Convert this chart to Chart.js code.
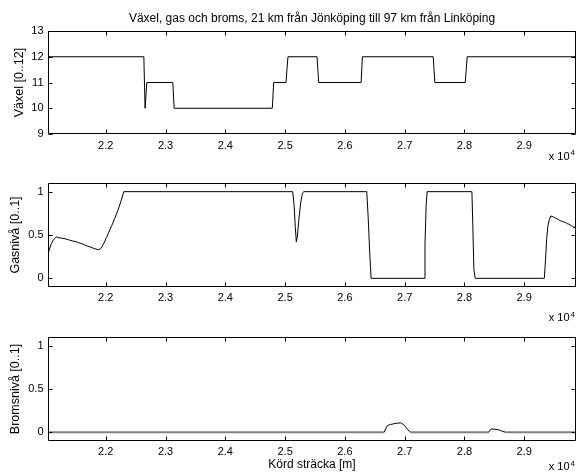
<!DOCTYPE html>
<html>
<head>
<meta charset="utf-8">
<script src="https://cdn.jsdelivr.net/npm/chart.js@4/dist/chart.umd.min.js"></script>
<style>
html,body{margin:0;padding:0;background:#fff;}
#wrap{position:relative;width:578px;height:475px;overflow:hidden;}
#wrap canvas{position:absolute;left:0;top:0;}
</style>
</head>
<body>
<div id="wrap">
<canvas id="c1" width="578" height="475"></canvas>
<canvas id="c2" width="578" height="475"></canvas>
<canvas id="c3" width="578" height="475"></canvas>
</div>
<script>
// ---- data (x in metres driven) ----
const titleText = 'Växel, gas och broms, 21 km från Jönköping till 97 km från Linköping';
const xLabel = 'Körd sträcka [m]';
const gearLabel = 'Växel [0..12]';
const gasLabel = 'Gasnivå [0..1]';
const brakeLabel = 'Bromsnivå [0..1]';

const xMin = 21034;
const xMax = 29866;
const xTicks = [22000, 23000, 24000, 25000, 26000, 27000, 28000, 29000];
const xTickLabels = ['2.2', '2.3', '2.4', '2.5', '2.6', '2.7', '2.8', '2.9'];

const gearTicks = [9, 10, 11, 12, 13];
const gearTickLabels = ['9', '10', '11', '12', '13'];
const levelTicks = [0, 0.5, 1];
const levelTickLabels = ['0', '0.5', '1'];

const gearX = [21034, 22637, 22658, 22687, 23122, 23144, 24786, 24809, 25015, 25048, 25534, 25562, 26271, 26293, 27477, 27505, 28013, 28046, 29866];
const gearY = [12, 12, 10, 11, 11, 10, 10, 11, 11, 12, 12, 11, 11, 12, 12, 11, 11, 12, 12];

const gasX = [21034, 21060, 21090, 21120, 21150, 21175, 21200, 21250, 21300, 21350, 21400, 21450, 21500, 21550, 21600, 21650, 21700, 21750, 21800, 21850, 21880, 21910, 21940, 21980, 22010, 22050, 22095, 22150, 22206, 22250, 22302,
  25127, 25150, 25170, 25188, 25205, 25230, 25260, 25290, 25310,
  26366, 26390, 26415, 26438, 27325, 27340, 27360, 27376,
  28125, 28140, 28158, 28180, 29336, 29355, 29375, 29395, 29420, 29447, 29480, 29510, 29540, 29570, 29600, 29630, 29660, 29690, 29720, 29750, 29780, 29810, 29830, 29850, 29866];
const gasY = [0.28, 0.34, 0.40, 0.44, 0.46, 0.48, 0.47, 0.465, 0.46, 0.45, 0.44, 0.43, 0.425, 0.41, 0.40, 0.385, 0.37, 0.36, 0.345, 0.335, 0.33, 0.34, 0.37, 0.42, 0.47, 0.53, 0.60, 0.69, 0.79, 0.88, 1.0,
  1.0, 0.85, 0.6, 0.42, 0.48, 0.68, 0.87, 0.98, 1.0,
  1.0, 0.7, 0.3, 0.0, 0.0, 0.4, 0.85, 1.0,
  1.0, 0.6, 0.1, 0.0, 0.0, 0.2, 0.45, 0.6, 0.68, 0.72, 0.71, 0.70, 0.69, 0.68, 0.665, 0.66, 0.65, 0.645, 0.63, 0.625, 0.61, 0.6, 0.58, 0.6, 0.59];

const brakeX = [21034, 26656, 26690, 26711, 26760, 26812, 26870, 26936, 26970, 27008, 27050, 27103, 28404, 28430, 28459, 28510, 28570, 28640, 28700, 29866];
const brakeY = [0, 0, 0.05, 0.078, 0.09, 0.098, 0.105, 0.11, 0.095, 0.07, 0.03, 0, 0, 0.03, 0.04, 0.035, 0.03, 0.01, 0, 0];

// ---- rendering ----
const FONT = "'Liberation Sans', Arial, Helvetica, sans-serif";
Chart.defaults.font.family = FONT;
Chart.defaults.color = '#000';

const boxPlugin = {
  id: 'mbox',
  afterDatasetsDraw(chart, args, opts) {
    const {ctx, chartArea: a} = chart;
    const x = chart.scales.x, y = chart.scales.y;
    ctx.save();
    ctx.strokeStyle = '#000';
    ctx.lineWidth = 1;
    const L = Math.round(a.left) + 0.5, R = Math.round(a.right) - 0.5;
    const T = Math.round(a.top) + 0.5, B = Math.round(a.bottom) - 0.5;
    ctx.beginPath();
    ctx.rect(L, T, R - L, B - T);
    const tl = 4;
    x.ticks.forEach(t => {
      const px = Math.round(x.getPixelForValue(t.value)) + 0.5;
      ctx.moveTo(px, B); ctx.lineTo(px, B - tl);
      ctx.moveTo(px, T); ctx.lineTo(px, T + tl);
    });
    y.ticks.forEach(t => {
      const py = Math.round(y.getPixelForValue(t.value)) + 0.5;
      ctx.moveTo(L, py); ctx.lineTo(L + tl, py);
      ctx.moveTo(R, py); ctx.lineTo(R - tl, py);
    });
    ctx.stroke();
    // x 10^4 exponent label
    ctx.fillStyle = '#000';
    ctx.textBaseline = 'middle';
    ctx.font = '11px ' + FONT;
    ctx.textAlign = 'right';
    ctx.fillText('x 10', 569.5, opts.expY);
    ctx.font = '8px ' + FONT;
    ctx.textAlign = 'left';
    ctx.fillText('4', 570.5, opts.expY - 4);
    ctx.restore();
  }
};

function makeChart(id, o) {
  const data = o.xs.map((v, i) => ({x: v, y: o.ys[i]}));
  const ds = {
    data: data,
    borderColor: '#000',
    borderWidth: 1,
    pointRadius: 0,
    tension: 0,
    fill: false
  };
  if (o.segment) ds.segment = o.segment;
  return new Chart(document.getElementById(id), {
    type: 'line',
    data: {datasets: [ds]},
    plugins: [boxPlugin],
    options: {
      responsive: false,
      animation: false,
      devicePixelRatio: 1,
      events: [],
      layout: {padding: {left: 0, right: 2, top: o.padTop, bottom: o.padBottom}},
      plugins: {
        legend: {display: false},
        tooltip: {enabled: false},
        title: o.title ? {
          display: true, text: o.title, fullSize: false, color: '#000',
          font: {size: 12, weight: 'normal', family: FONT},
          padding: {top: 11.1, bottom: 5.5}
        } : {display: false},
        mbox: {expY: o.expY}
      },
      scales: {
        x: {
          type: 'linear', position: 'bottom', min: xMin, max: xMax,
          afterBuildTicks: s => { s.ticks = xTicks.map(v => ({value: v})); },
          afterFit: s => { s.height = o.xh; },
          grid: {display: false, drawTicks: false},
          border: {display: false},
          ticks: {
            autoSkip: false, maxRotation: 0, padding: o.xPad,
            font: {size: 11}, color: '#000',
            callback: (v, i) => xTickLabels[xTicks.indexOf(v)]
          },
          title: o.xTitle ? {display: true, text: o.xTitle, color: '#000', font: {size: 12}, padding: {top: 0, bottom: 0}} : {display: false}
        },
        y: {
          type: 'linear', position: 'left', min: o.yMin, max: o.yMax,
          afterBuildTicks: s => { s.ticks = o.yTicks.map(v => ({value: v})); },
          afterFit: s => { s.width = 48; },
          grid: {display: false, drawTicks: false},
          border: {display: false},
          ticks: {
            autoSkip: false, padding: 4.5, font: {size: 11}, color: '#000',
            callback: (v) => o.yTickLabels[o.yTicks.indexOf(v)]
          },
          title: {display: true, text: o.yTitle, color: '#000', font: {size: 12.5}, padding: {top: o.yTitlePad, bottom: 0}}
        }
      }
    }
  });
}

makeChart('c1', {
  xs: gearX, ys: gearY, yMin: 9, yMax: 13, yTicks: gearTicks, yTickLabels: gearTickLabels,
  yTitle: gearLabel, yTitlePad: 11.7, title: titleText,
  padTop: 0, padBottom: 475 - 134 - 20, xh: 20, xPad: 5.7, expY: 156.7
});
makeChart('c2', {
  xs: gasX, ys: gasY, yMin: -0.1, yMax: 1.1, yTicks: levelTicks, yTickLabels: levelTickLabels,
  yTitle: gasLabel, yTitlePad: 8.5,
  padTop: 183, padBottom: 475 - 287 - 20, xh: 20, xPad: 4.7, expY: 318.3
});
makeChart('c3', {
  xs: brakeX, ys: brakeY, yMin: -0.1, yMax: 1.1, yTicks: levelTicks, yTickLabels: levelTickLabels,
  yTitle: brakeLabel, yTitlePad: 8.5, xTitle: xLabel,
  padTop: 337, padBottom: 475 - 441 - 31, xh: 31, xPad: 4.1, expY: 467.3,
  segment: {
    borderColor: c => (c.p0.parsed.y === 0 && c.p1.parsed.y === 0) ? '#808080' : '#000',
    borderWidth: c => (c.p0.parsed.y === 0 && c.p1.parsed.y === 0) ? 2 : 1
  }
});
</script>
</body>
</html>
